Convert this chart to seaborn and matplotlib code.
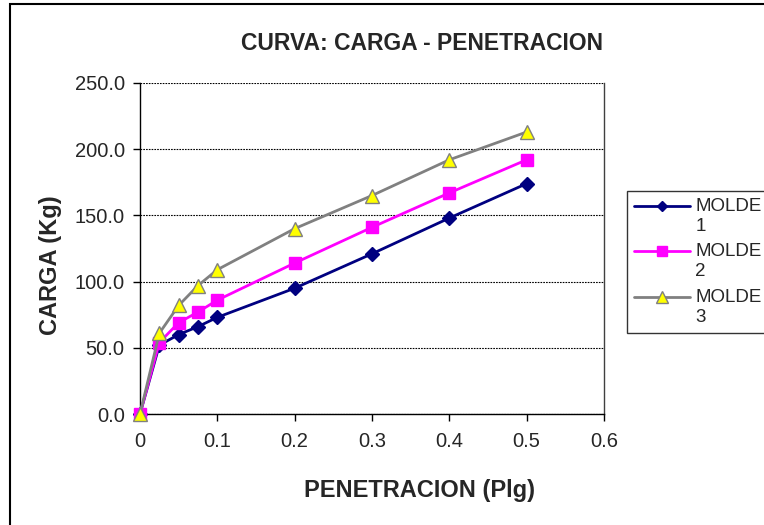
import matplotlib
matplotlib.use("Agg")
import matplotlib.pyplot as plt
import seaborn as sns
import pandas as pd
from matplotlib.patches import Rectangle

penetracion = [0, 0.025, 0.05, 0.075, 0.1, 0.2, 0.3, 0.4, 0.5]
molde1 = [0, 52, 60, 66, 73, 95, 121, 148, 174]
molde2 = [0, 54, 69, 77, 86, 114, 141, 167, 192]
molde3 = [0, 61, 82, 97, 109, 140, 165, 192, 213]
series_names = ["MOLDE\n1", "MOLDE\n2", "MOLDE\n3"]
x_ticks = [0, 0.1, 0.2, 0.3, 0.4, 0.5, 0.6]
x_tick_labels = ["0", "0.1", "0.2", "0.3", "0.4", "0.5", "0.6"]
y_ticks = [0, 50, 100, 150, 200, 250]

rows = []
for name, vals in zip(series_names, [molde1, molde2, molde3]):
    for x, y in zip(penetracion, vals):
        rows.append({"x": x, "y": y, "serie": name})
df = pd.DataFrame(rows)

sns.set_style("white")
plt.rcParams["font.family"] = ["Liberation Sans", "DejaVu Sans"]

fig = plt.figure(figsize=(7.64, 5.25), dpi=100)
W, H = 764, 525
ax = fig.add_axes([140 / W, 1 - 414 / H, (604 - 140) / W, (414 - 83) / H])

styles = {
    series_names[0]: dict(color="#000080", marker="D", mfc="#000080", mec="#000080", ms=7),
    series_names[1]: dict(color="#FF00FF", marker="s", mfc="#FF00FF", mec="#FF00FF", ms=9),
    series_names[2]: dict(color="#808080", marker="^", mfc="#FFFF00", mec="#808080", ms=10),
}

for name in series_names:
    sub = df[df["serie"] == name]
    st = styles[name]
    sns.lineplot(data=sub, x="x", y="y", ax=ax, color=st["color"], linewidth=2,
                 marker=st["marker"], markersize=st["ms"], markerfacecolor=st["mfc"],
                 markeredgecolor=st["mec"], markeredgewidth=1, label=name, zorder=3,
                 clip_on=False)

ax.set_xlim(0, 0.6)
ax.set_ylim(0, 250)
ax.set_xticks(x_ticks)
ax.set_xticklabels(x_tick_labels)
ax.set_yticks(y_ticks)
ax.set_yticklabels([f"{v:.1f}" for v in y_ticks])
ax.tick_params(axis="both", labelsize=14.5, direction="out", length=5, width=1,
               color="black", bottom=True, left=True)
ax.tick_params(axis="x", pad=8)
ax.tick_params(axis="y", pad=6)
ax.yaxis.grid(True, color="black", linestyle=(0, (1.5, 1)), linewidth=0.8)
ax.xaxis.grid(False)
for s in ["left", "bottom"]:
    ax.spines[s].set_color("black")
    ax.spines[s].set_linewidth(1)
ax.spines["right"].set_color("#404040")
ax.spines["right"].set_linewidth(1)
ax.spines["top"].set_visible(False)

ax.set_xlabel("PENETRACION (Plg)", fontsize=17, fontweight="bold", va="center", ha="center")
ax.set_ylabel("CARGA (Kg)", fontsize=17, fontweight="bold", va="center", ha="center")
ax.xaxis.set_label_coords(419 / W, 1 - 490 / H, transform=fig.transFigure)
ax.yaxis.set_label_coords(50 / W, 1 - 265 / H, transform=fig.transFigure)
fig.text(422 / W, 1 - 43 / H, "CURVA: CARGA - PENETRACION", fontsize=16.5,
         fontweight="bold", ha="center", va="center")

leg = ax.legend(loc="upper left", bbox_to_anchor=(627 / W, 1 - 191 / H),
                bbox_transform=fig.transFigure, frameon=True, fancybox=False,
                edgecolor="black", fontsize=13.5, handlelength=3.0, borderpad=0.35,
                labelspacing=0.45, handletextpad=0.3, borderaxespad=0,
                markerscale=0.8)
leg.get_frame().set_linewidth(1)
for t in leg.get_texts():
    t.set_linespacing(1.25)
for h in leg.legend_handles:
    yd = h.get_ydata()
    h.set_ydata([v + 7.5 for v in yd])

fig.patches.append(Rectangle((10 / W, -0.1), 1.2, 1 - 4 / H + 0.1,
                             transform=fig.transFigure, fill=False,
                             edgecolor="black", linewidth=1.5, zorder=10))

fig.savefig("out.png", dpi=100)
